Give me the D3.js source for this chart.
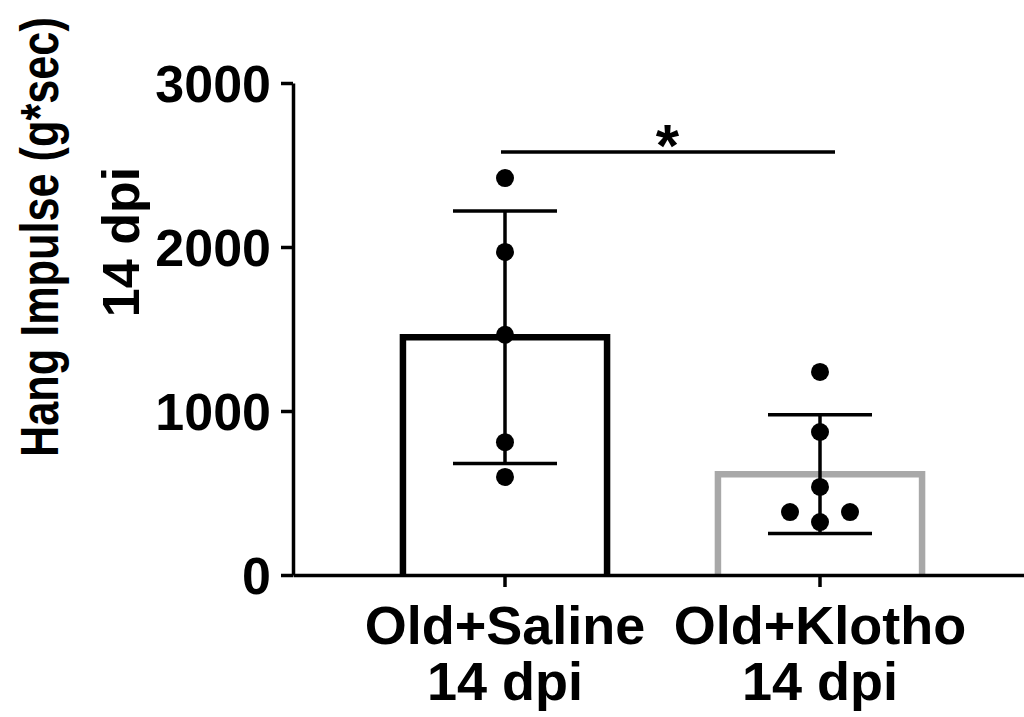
<!DOCTYPE html>
<html><head><meta charset="utf-8">
<script src="https://cdn.jsdelivr.net/npm/d3@7"></script>
<style>
html,body{margin:0;padding:0;background:#fff;}
svg{display:block;font-family:"Liberation Sans",Arial,Helvetica,sans-serif;font-weight:bold;}
</style></head>
<body>
<script>
// ---- data ----
const categories = ["Old+Saline", "Old+Klotho"];
const categoryLine2 = ["14 dpi", "14 dpi"];
const barMeans = [1450, 615];
const barSD = [770, 362];
const salinePoints = [2420, 1970, 1465, 810, 598];
const klothoPoints = [1238, 872, 537, 384, 384, 323];
const klothoOffsets = [0, 0, 0, -1, 1, 0]; // jitter slot (-1 left, 0 centre, 1 right)
const salineOffsets = [0, 0, 0, 0, 0];
const yTicks = [0, 1000, 2000, 3000];
const yTitle = ["Hang Impulse (g*sec)", "14 dpi"];
const sigY = 2580;
const sigLabel = "*";
const barColors = ["#000000", "#a8a8a8"];

// ---- layout ----
const W = 1024, H = 717;
const svg = d3.select("body").append("svg").attr("width", W).attr("height", H);

const x = d3.scaleBand().domain(categories).range([293, 1032]).paddingInner(0.352).paddingOuter(0.349);
const y = d3.scaleLinear().domain([0, 3000]).range([575, 83]);
const cx = c => x(c) + x.bandwidth() / 2;

// bars (open at bottom)
categories.forEach((c, i) => {
  const x0 = x(c), x1 = x(c) + x.bandwidth();
  svg.append("path")
    .attr("d", `M${x0},${y(0)}V${y(barMeans[i])}H${x1}V${y(0)}`)
    .attr("fill", "none").attr("stroke", barColors[i]).attr("stroke-width", 6.5)
    .attr("stroke-linejoin", "miter");
});

// error bars
const capHalf = 52;
categories.forEach((c, i) => {
  const g = svg.append("g").attr("stroke", "#000").attr("stroke-width", 3.5);
  const hi = y(barMeans[i] + barSD[i]), lo = y(barMeans[i] - barSD[i]);
  g.append("line").attr("x1", cx(c)).attr("x2", cx(c)).attr("y1", hi).attr("y2", lo);
  g.append("line").attr("x1", cx(c) - capHalf).attr("x2", cx(c) + capHalf).attr("y1", hi).attr("y2", hi);
  g.append("line").attr("x1", cx(c) - capHalf).attr("x2", cx(c) + capHalf).attr("y1", lo).attr("y2", lo);
});

// points
const jitter = 30;
[[salinePoints, salineOffsets], [klothoPoints, klothoOffsets]].forEach(([pts, offs], i) => {
  svg.append("g").selectAll("circle").data(pts).join("circle")
    .attr("cx", (d, j) => cx(categories[i]) + offs[j] * jitter)
    .attr("cy", d => y(d))
    .attr("r", 9).attr("fill", "#000");
});

// axes
const yAxis = svg.append("g").attr("transform", "translate(293,0)")
  .call(d3.axisLeft(y).tickValues(yTicks).tickSize(12).tickSizeOuter(0).tickPadding(10).tickFormat(d3.format("d")));
yAxis.select(".domain").attr("stroke-width", 3.5);
yAxis.selectAll(".tick line").attr("stroke-width", 3.5);
yAxis.selectAll(".tick text").attr("font-size", 52).attr("font-weight", "bold")
  .attr("font-family", "Liberation Sans, Arial, sans-serif").attr("fill", "#000").attr("dy", "0.36em");

const xAxis = svg.append("g").attr("transform", `translate(0,${y(0)})`)
  .call(d3.axisBottom(x).tickSize(12).tickSizeOuter(0).tickFormat(""));
xAxis.select(".domain").attr("stroke-width", 3.5);
xAxis.selectAll(".tick line").attr("stroke-width", 3.5);

// x labels (two lines)
categories.forEach((c, i) => {
  const t = svg.append("text").attr("text-anchor", "middle").attr("font-size", 54).attr("fill", "#000");
  t.append("tspan").attr("x", cx(c)).attr("y", 644).text(c);
  t.append("tspan").attr("x", cx(c)).attr("y", 700).text(categoryLine2[i]);
});

// y title (line 1 is horizontally condensed in the original)
const t1 = svg.append("text").attr("text-anchor", "start").attr("font-size", 53).attr("fill", "#000")
  .attr("x", 0).attr("y", 0).text(yTitle[0]);
const natural = t1.node().getComputedTextLength();
const sx = 440 / natural;
t1.attr("transform", `translate(58,457) rotate(-90) scale(${sx},1)`);
svg.append("text").attr("text-anchor", "middle").attr("font-size", 52).attr("fill", "#000")
  .attr("transform", "translate(139,242) rotate(-90)")
  .text(yTitle[1]);

// significance
svg.append("line").attr("x1", cx(categories[0]) - 4).attr("x2", cx(categories[1]) + 15)
  .attr("y1", y(sigY)).attr("y2", y(sigY)).attr("stroke", "#000").attr("stroke-width", 3.5);
svg.append("text").attr("x", (cx(categories[0]) + cx(categories[1])) / 2 + 5).attr("y", y(sigY) + 14)
  .attr("text-anchor", "middle").attr("font-size", 60).attr("fill", "#000").text(sigLabel);
</script>
</body></html>
